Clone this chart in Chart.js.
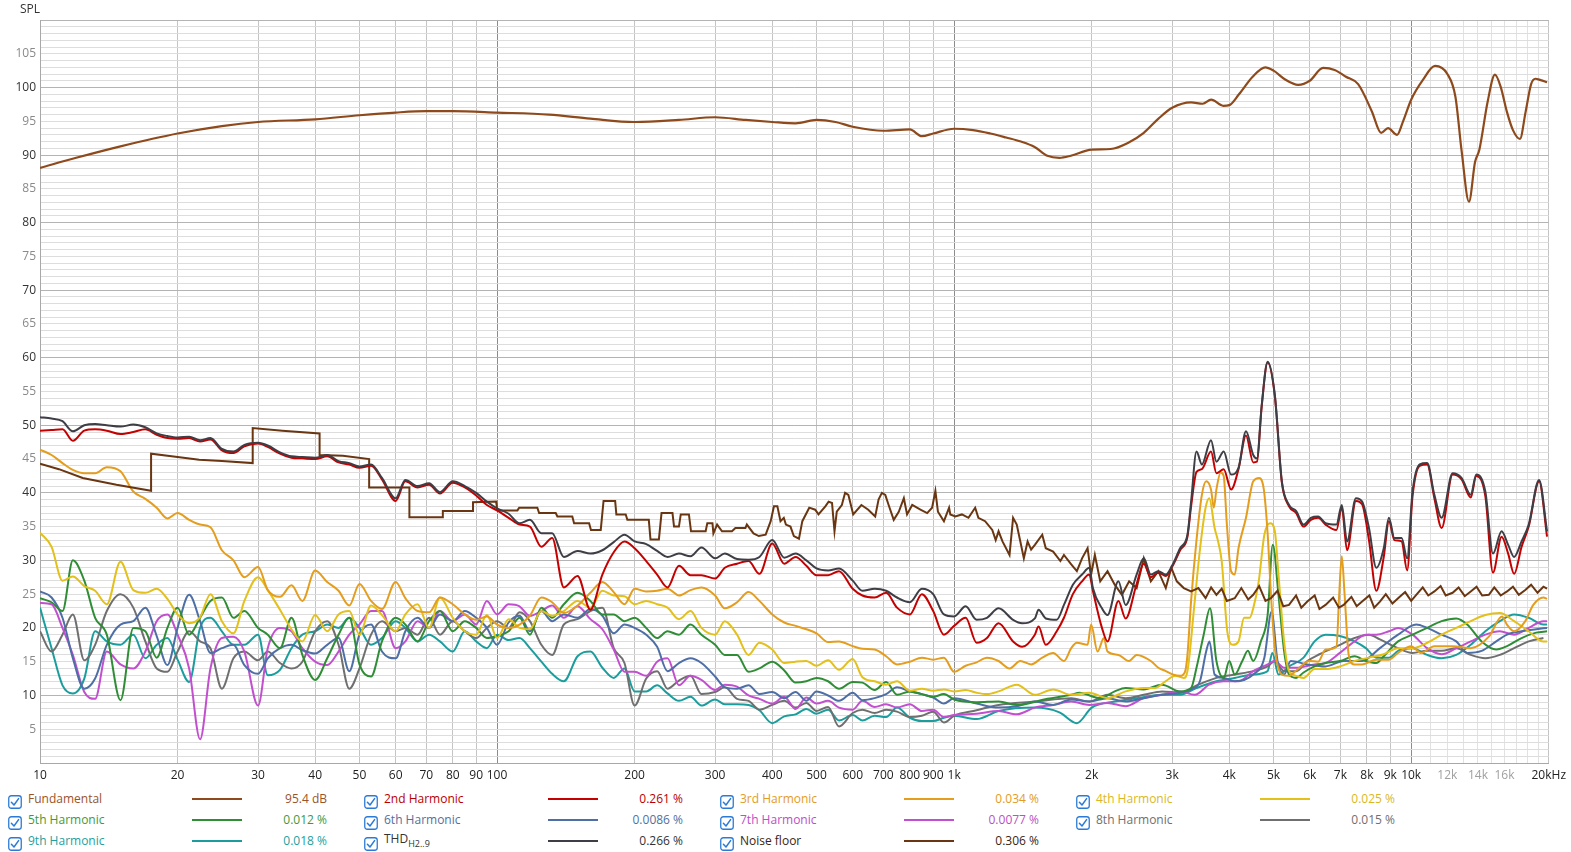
<!DOCTYPE html>
<html>
<head>
<meta charset="utf-8">
<script src="https://cdn.jsdelivr.net/npm/chart.js@4.4.1/dist/chart.umd.min.js"></script>
<style>
html,body{margin:0;padding:0;background:#fff;width:1571px;height:852px;overflow:hidden;font-family:"Open Sans","Noto Sans",sans-serif;}
#chartBox{position:absolute;left:0;top:0;width:1571px;height:788px;}
#spl{position:absolute;left:20px;top:1px;font-size:12px;line-height:16px;color:#333;}
.lg{position:absolute;font-size:12px;line-height:16px;white-space:nowrap;}
.lv{text-align:right;width:120px;}
.ln{position:absolute;height:2px;width:50px;}
.cb{position:absolute;width:14px;height:14px;}
sub{font-size:9px;vertical-align:-4px;line-height:0;}
</style>
</head>
<body>
<div id="chartBox"><canvas id="c" width="1571" height="788"></canvas></div>
<div id="spl">SPL</div>
<div id="legend"></div>
<script>
// ---------- DATA ----------
// shared 1/40-decade frequency grid, 10 Hz .. 950 Hz
const lowFreqs = [10,10.6,11.2,11.8,12.5,13.2,14,15,16,17,18,19,20,21.2,22.4,23.6,25,26.5,28,30,31.5,33.5,35.5,37.5,40,42.5,45,47.5,50,53,56,60,63,67,71,75,80,85,90,95,
 100,106,112,118,125,132,140,150,160,170,180,190,200,212,224,236,250,265,280,300,315,335,355,375,400,425,450,475,500,530,560,600,630,670,710,750,800,850,900,950];

// Fundamental
const fundF = [10,12,15,20,25,30,40,50,60,70,80,100,130,160,200,250,300,350,400,450,500,550,600,700,800,850,900,1000,1100,1200,1300,1400,1500,1600,1700,1800,2000,2200,2400,2600,2800,3000,3300,3500,3650,3880,4000,4200,4500,4795,5000,5300,5658,6000,6418,6800,7200,7655,8200,8596,8900,9316,9600,10000,10600,11280,12000,12500,12900,13380,13800,14100,14700,15250,15700,16200,16700,17300,17800,18300,18700,19200,19830];
const fundDb = [88.1,89.6,91.3,93.2,94.3,94.9,95.3,95.9,96.3,96.5,96.5,96.3,96.0,95.4,94.9,95.2,95.6,95.2,94.9,94.7,95.2,94.9,94.2,93.6,93.8,92.8,93.2,93.9,93.7,93.2,92.6,92.0,91.2,89.9,89.6,89.9,90.8,90.9,91.8,93.3,95.4,97.0,97.8,97.6,98.2,97.3,97.4,99.0,101.6,103.0,102.5,101.2,100.4,101.0,102.9,102.6,101.6,100.5,96.5,93.3,94.0,93.0,95.0,98.2,101.1,103.2,102.0,98.6,90.5,83.1,89.0,90.8,97.9,101.9,100.1,96.4,93.7,92.4,96.4,100.5,101.3,101.1,100.8];

// 2nd harmonic and THD
const h2Low = [49.2,49.3,49.4,47.7,49.2,49.4,49.2,48.7,49.0,49.4,48.6,48.1,48.0,48.1,47.6,47.9,46.3,45.9,46.9,47.3,46.8,45.8,45.2,45.1,45.0,45.4,44.5,44.2,43.7,44.0,42.0,38.8,41.7,40.8,41.2,39.9,41.5,40.8,39.6,38.2,
 37.4,36.3,35.3,35.0,32.0,33.3,26.0,27.7,22.7,27.9,31.2,32.8,31.8,29.9,27.9,26.0,29.2,27.8,27.8,27.3,28.9,29.5,29.9,28.0,32.5,29.5,30.5,29.2,27.8,27.8,28.4,25.8,24.8,24.5,25.2,23.0,22.0,25.0,22.5,19.0];
const thdLow = [51.2,51.0,50.6,49.1,50.0,50.2,50.0,49.8,50.1,49.7,48.8,48.4,48.2,48.3,47.8,48.1,46.5,46.1,47.1,47.4,47.0,46.0,45.4,45.3,45.2,45.6,44.7,44.4,43.9,44.2,42.2,39.2,41.9,41.0,41.4,40.1,41.7,41.0,40.0,38.7,
 37.7,36.9,35.5,36.0,34.0,34.0,30.5,31.4,31.0,31.5,32.7,33.8,32.8,32.4,31.4,30.5,31.0,30.6,31.9,30.3,31.0,30.2,30.1,30.5,33.0,30.4,31.0,30.0,28.8,28.5,28.8,27.0,25.5,25.8,25.5,24.5,23.8,25.8,25.0,22.0];
const distHighF = [1000,1060,1120,1180,1251,1346,1409,1502,1530,1587,1677,1739,1819,1905,1976,2012,2106,2166,2288,2373,2508,2600,2694,2798,2905,3008,3122,3240,3300,3391,3484,3648,3749,3889,4036,4190,4351,4513,4598,4710,4852,5032,5213,5404,5604,5815,6033,6260,6496,6863,7050,7240,7570,7810,8085,8390,8710,8940,9190,9530,9800,10070,10440,10840,11240,11660,12320,12890,13500,13880,14530,15100,15770,16300,16800,17440,18080,19050,19830];
const h2High = [20.3,21.5,17.8,18.5,20.7,18.0,17.2,19.0,20.2,17.5,19.5,21.5,25.0,26.9,27.9,25.5,20.0,18.0,24.0,21.4,26.5,29.5,27.5,28.2,27.7,29.2,31.5,33.5,38.0,43.1,43.5,46.1,42.9,43.5,40.5,43.5,48.5,44.5,44.6,52.8,59.3,54.3,41.5,38.0,37.0,35.0,36.0,36.3,35.3,34.5,37.8,31.5,38.8,38.3,33.0,25.5,30.5,35.8,33.0,32.8,28.5,39.5,44.0,44.2,39.2,34.8,42.7,42.0,39.3,42.5,39.5,28.2,33.5,31.0,28.0,32.0,35.0,41.7,33.5];
const thdHigh = [21.7,23.2,21.2,21.5,22.9,21.2,20.7,21.4,22.7,21.4,21.2,23.4,26.4,27.9,28.9,25.9,22.9,21.9,26.9,23.4,27.9,30.3,27.9,28.4,27.9,29.4,31.8,33.8,38.7,46.1,44.2,47.8,44.6,46.1,42.7,43.7,49.1,45.6,45.1,53.0,59.4,54.5,41.7,38.2,37.3,35.3,36.3,36.5,35.5,35.3,38.2,32.8,39.2,38.7,34.8,28.9,31.8,36.3,33.3,33.3,30.3,40.2,44.2,44.4,39.7,36.3,42.9,42.2,39.7,42.7,40.2,31.0,34.3,32.3,30.5,32.8,35.3,41.9,34.3];

// 3rd harmonic
const h3Low = [46.4,45.6,44.4,43.4,42.9,42.9,43.8,43.2,40.2,39.1,37.8,36.2,37.0,36.0,35.3,34.9,31.5,30.0,27.5,29.0,25.6,24.6,26.3,24.0,28.5,26.8,25.5,23.3,26.5,24.0,22.8,26.8,24.4,22.5,22.3,24.5,23.5,22.0,21.2,21.7,
 20.5,20.0,20.5,21.8,24.5,23.8,22.2,23.3,25.2,26.8,25.3,23.5,25.8,25.4,25.5,25.8,24.8,25.6,26.0,24.8,22.9,23.8,25.3,24.0,22.0,20.8,20.3,19.8,19.2,17.9,18.0,17.3,16.9,16.8,15.8,14.6,15.0,15.6,15.3,15.6];
const h3HighF = [1000,1060,1120,1180,1251,1322,1396,1474,1559,1647,1739,1804,1856,1959,1994,2060,2127,2166,2288,2415,2508,2694,2798,2905,3008,3122,3200,3240,3300,3391,3484,3560,3648,3700,3749,3830,3889,3950,4036,4111,4190,4351,4513,4650,4760,4852,4934,5032,5213,5404,5604,6000,6260,6496,6863,6960,7050,7150,7300,7500,7810,8390,8940,9363,10000,10500,11240,12320,13500,14790,15800,16200,16800,17770,18500,19470,19830];
const h3High = [13.5,14.4,14.9,15.6,15.1,14.0,15.1,14.6,15.6,16.3,15.1,17.0,17.8,17.5,20.5,16.5,18.5,16.5,16.0,15.1,16.0,15.1,14.1,13.6,13.1,12.9,13.5,16.0,24.0,33.0,39.7,41.7,40.5,37.8,40.5,43.0,42.5,35.5,28.4,27.9,31.8,36.3,41.7,42.2,40.5,34.0,25.0,17.0,13.1,12.9,13.7,15.1,15.0,16.8,17.2,25.0,30.6,25.0,16.0,14.6,14.6,15.3,15.3,16.3,17.3,16.3,17.3,17.3,17.0,18.7,21.7,20.5,19.5,21.0,23.4,24.5,24.3];

// 4th harmonic
const h4Low = [34.1,32.0,27.0,27.6,26.2,25.5,23.5,29.8,25.6,25.2,25.8,24.3,22.0,20.7,21.6,25.0,21.0,19.2,24.0,27.5,25.6,22.7,19.8,18.0,21.9,19.5,22.0,22.5,19.0,23.3,21.9,19.5,22.0,23.5,20.0,24.5,21.5,19.5,19.0,21.9,
 18.5,21.3,20.0,19.8,22.5,21.8,22.5,24.0,23.0,25.5,24.8,24.7,23.5,24.0,23.5,23.0,21.3,22.5,20.0,19.0,21.0,19.0,16.0,17.8,16.8,14.8,15.0,15.1,14.4,15.2,13.8,15.4,12.7,12.1,11.6,12.1,10.7,11.0,10.7,10.9];
const h4HighF = [1000,1060,1120,1180,1251,1371,1502,1647,1804,1976,2166,2373,2600,2750,2900,3050,3181,3240,3360,3453,3550,3616,3715,3781,3850,3960,4074,4190,4310,4433,4513,4640,4773,4910,5032,5125,5272,5404,5604,5815,6147,6496,6985,7520,8085,8710,9363,10070,10840,11660,12550,13500,14530,15630,16800,18080,19470,19830];
const h4High = [10.6,10.8,10.4,10.2,10.6,11.6,10.1,10.9,10.1,10.4,9.6,10.6,11.1,11.1,12.1,12.9,12.6,13.6,23.9,31.8,37.8,39.2,34.8,32.8,29.9,19.5,17.5,18.0,21.5,21.5,22.9,26.9,33.8,35.5,34.3,27.9,18.0,13.6,12.9,12.6,13.9,13.9,14.3,15.1,15.6,16.1,17.0,17.0,17.8,19.0,20.0,21.0,21.9,22.2,21.0,19.5,18.0,18.0];

// 5th harmonic
const h5Low = [24.4,23.8,22.5,30.0,27.0,21.5,19.0,9.3,20.0,19.5,15.6,20.0,23.0,19.0,21.5,24.0,24.5,21.5,22.5,20.0,19.0,17.0,21.5,16.0,12.3,15.5,19.0,21.5,14.6,12.8,18.0,21.5,20.5,18.0,21.0,22.5,19.5,21.0,20.0,18.5,
 18.8,19.5,21.5,19.0,23.0,21.5,23.5,25.2,24.0,22.0,22.0,21.0,21.5,20.0,18.5,19.5,19.0,20.5,19.0,17.5,16.0,16.0,13.5,14.0,15.0,13.7,11.9,12.1,12.6,12.1,11.0,12.0,11.9,10.8,12.0,10.1,10.6,10.2,9.8,10.2];
const h5HighF = [1000,1120,1251,1371,1600,1804,1879,2088,2246,2373,2600,2851,3122,3300,3391,3516,3630,3749,3889,4000,4111,4271,4392,4513,4690,4852,4980,5125,5272,5404,5604,5815,6147,6496,6985,7520,7960,8390,8710,9363,10070,10840,11660,12550,13260,14260,15350,16210,17440,18770,19830];
const h5High = [9.4,9.0,9.1,8.6,9.5,10.1,10.4,9.6,10.6,11.1,10.9,11.6,10.6,11.1,14.1,19.0,22.9,15.1,12.6,15.1,13.1,15.1,16.6,15.1,18.0,21.9,32.3,24.9,16.6,13.1,12.6,13.4,14.3,14.8,15.1,15.8,15.1,14.8,15.8,18.0,19.0,20.0,21.0,21.4,20.5,18.0,16.8,17.3,18.5,19.3,19.5];

// 6th harmonic
const h6Low = [25.4,24.5,21.5,15.5,11.0,12.5,17.5,20.5,21.0,23.0,18.8,14.5,20.0,24.9,21.0,16.3,17.0,17.5,14.5,13.2,15.5,17.0,17.5,16.7,16.2,17.5,18.5,13.6,19.0,20.5,16.5,15.5,19.5,21.5,20.0,22.0,21.0,22.5,21.5,20.0,
 17.5,20.8,21.8,19.5,22.5,21.0,22.0,21.5,22.8,21.8,19.2,20.5,20.0,19.0,17.2,13.6,14.8,15.5,14.8,12.8,11.2,11.0,11.5,10.2,10.5,9.6,10.5,9.2,10.6,10.0,9.2,10.4,9.3,9.6,10.2,11.2,10.6,10.2,9.7,8.8];
const h6HighF = [1000,1120,1251,1371,1502,1647,1804,1976,2166,2373,2600,2851,3122,3300,3450,3560,3620,3715,3889,4111,4513,4773,4950,5100,5272,5450,5926,6496,7117,7810,8544,9363,10260,10840,11660,12550,13260,14260,15350,16210,17440,18770,19830];
const h6High = [9.6,8.8,8.2,8.4,9.1,8.6,9.4,9.1,9.6,9.1,9.6,10.1,10.4,10.9,12.1,16.5,18.0,13.1,12.6,12.1,13.1,15.6,22.4,15.1,13.1,15.1,14.6,14.3,15.1,15.1,17.0,19.0,20.5,20.0,19.0,18.0,16.3,16.6,18.0,19.0,19.5,19.8,20.0];

// 7th harmonic
const h7Low = [23.7,23.5,20.0,16.0,10.5,9.5,16.5,14.6,14.0,16.5,21.0,22.0,19.0,14.0,3.5,14.0,18.5,18.7,16.5,8.5,17.0,20.0,19.5,17.0,15.0,14.5,16.5,19.0,20.5,22.5,22.5,17.0,18.0,21.0,20.0,22.5,21.0,22.0,20.5,24.0,
 22.0,23.5,23.2,21.8,22.5,23.3,21.5,23.2,21.3,19.8,16.8,13.5,13.5,12.9,15.0,15.5,11.5,12.9,12.3,10.8,11.6,11.3,10.0,9.5,8.8,9.8,8.0,9.7,8.8,9.2,8.2,7.9,9.2,8.3,8.7,8.2,8.7,7.7,7.9,6.8];
const h7HighF = [1000,1120,1251,1371,1502,1647,1804,1976,2166,2373,2600,2851,3122,3360,3616,3889,4190,4513,4852,5032,5272,5604,6147,6496,6985,7520,7960,8390,8940,9363,10070,10840,11660,12550,13500,14530,15630,16800,18080,19470,19830];
const h7High = [7.1,7.3,7.7,7.2,8.2,8.6,9.1,8.6,8.9,8.4,9.6,10.1,10.6,10.1,11.6,12.1,12.1,13.6,14.6,15.1,14.1,14.1,14.6,14.8,16.3,18.0,19.0,19.0,19.5,20.0,19.0,17.0,16.1,17.0,18.0,19.0,19.5,19.0,20.0,21.0,21.0];

// 8th harmonic
const h8Low = [19.5,16.5,19.0,22.0,15.2,17.5,22.5,25.0,23.0,18.0,14.0,13.5,16.5,19.5,18.0,17.0,11.0,15.5,16.5,15.2,16.5,14.8,14.0,15.0,19.5,21.0,17.5,11.0,14.0,19.0,21.0,19.5,20.0,19.0,21.5,19.0,21.0,19.5,18.5,20.0,
 21.0,20.0,22.3,21.0,17.5,16.0,20.5,21.3,22.5,23.0,17.0,14.8,8.5,12.5,13.6,11.0,12.2,12.9,10.2,10.5,11.2,9.5,9.2,7.9,8.6,9.2,8.2,8.9,7.7,8.3,5.4,7.4,7.9,7.4,7.9,7.6,6.8,7.0,7.6,6.0];
const h8HighF = [1000,1120,1251,1502,1804,1976,2166,2373,2600,2851,3122,3423,3749,4111,4513,4852,5032,5272,5604,5926,6300,6985,7520,8085,8544,9363,10070,10840,11660,12550,13500,14530,15630,16800,18080,19470];
const h8High = [7.0,7.8,8.6,9.1,9.6,9.1,10.1,9.6,10.1,10.6,10.4,11.6,12.6,13.1,13.6,14.3,15.1,13.6,13.6,15.1,16.1,17.5,18.5,19.0,18.3,17.0,16.3,16.6,16.6,17.0,16.0,15.5,16.0,17.0,18.0,18.5];

// 9th harmonic
const h9Low = [23.0,17.0,11.5,10.3,12.5,19.5,18.0,17.5,19.0,15.5,17.5,18.5,15.3,12.0,20.0,21.5,19.5,17.5,17.5,19.0,13.0,13.8,17.0,19.0,19.5,20.5,20.0,21.5,20.0,17.5,18.5,21.0,20.0,18.0,19.0,18.0,16.5,19.5,18.0,17.0,
 19.0,18.2,18.5,17.0,15.0,13.2,12.1,15.8,16.5,14.1,12.6,14.0,10.6,10.6,11.5,10.3,9.2,9.8,8.5,9.4,8.7,8.7,8.6,7.8,5.9,6.9,7.2,8.0,7.3,7.9,6.3,7.1,6.3,7.0,6.8,8.2,6.7,6.2,6.2,6.7];
const h9HighF = [1000,1120,1251,1502,1700,1856,2000,2246,2508,2851,3122,3391,3749,4111,4513,4852,4970,5125,5404,5815,6147,6496,6985,7520,7960,8390,8940,9363,10070,10840,11660,12550,13500,14530,15630,16800,18080,19470,19830];
const h9High = [7.0,6.5,7.7,8.2,7.5,5.9,8.2,9.1,9.6,10.1,10.1,11.1,12.1,12.6,13.1,13.6,16.3,13.1,14.3,15.6,18.0,19.0,18.8,18.0,17.0,15.6,15.6,16.6,17.0,16.0,15.5,16.0,17.5,19.5,21.0,22.0,21.5,20.5,20.5];

// Noise floor (stepped)
const noiseF = [10,11,12.4,14.7,17.5,17.5,20,22.3,25,29.2,29.2,33.9,40.9,40.9,46,52.5,52.5,64.3,64.3,76.1,76.1,88.6,88.6,99.5,100.2,110.8,111.8,122.5,123.6,134.4,135.5,146.1,147.4,159,160.5,168.6,171,181.3,182.4,191.2,192.8,214.8,216.6,226,229,242,243.9,250,252.3,262.9,265.7,286,288.4,296,297.4,303,310.6,326.5,332.3,349.5,352,364,373.8,387,396.9,403.5,410.5,417,424,428.5,438.5,446,457.7,465.5,482,496.6,505,522.7,531.4,540.6,547.4,553.7,568,577.4,587,594.5,601.5,626.8,648.9,672,683.4,695,707,719,737.7,756.7,776.3,789,809.7,844,873,895,910,921.7,950,975,981,1006,1040,1075,1112,1130,1169,1212,1233,1251,1276,1322,1346,1371,1396,1421,1448,1474,1502,1559,1587,1647,1708,1739,1804,1856,1905,1959,1994,2032,2088,2166,2246,2329,2415,2508,2600,2694,2798,2905,2987,3071,3181,3300,3423,3550,3650,3749,3850,3950,4111,4250,4400,4513,4650,4800,4934,5100,5250,5404,5600,5750,5926,6150,6300,6496,6750,6950,7117,7400,7600,7810,8100,8300,8544,8800,9100,9363,9700,10000,10260,10600,10900,11240,11600,11900,12320,12700,13100,13500,13900,14300,14790,15200,15700,16210,16700,17200,17770,18300,18900,19470,19830];
const noiseDb = [44.3,43.5,42.2,41.2,40.3,45.8,45.3,44.9,44.7,44.4,49.6,49.2,48.8,45.6,45.5,45.0,40.8,40.8,36.4,36.4,37.3,37.3,38.6,38.7,37.4,37.4,37.8,37.8,37.0,37.0,36.5,36.5,35.5,35.5,34.5,34.5,38.8,38.8,36.8,36.8,36.0,36.0,33.1,33.1,37.0,37.0,35.0,35.0,36.8,36.8,34.3,34.3,35.5,35.5,34.0,35.3,34.3,34.3,34.8,34.8,35.3,34.0,33.6,33.8,35.8,38.0,38.0,35.8,36.3,35.3,35.0,33.6,33.2,35.8,37.8,37.5,36.8,38.0,38.7,38.5,34.3,37.2,38.2,40.0,39.7,38.2,36.8,38.2,37.5,36.5,39.0,40.0,39.7,38.2,36.0,37.2,39.2,36.8,38.2,37.5,37.0,37.8,40.3,37.2,35.8,37.8,36.8,36.5,36.8,36.3,37.8,36.3,35.8,34.5,33.0,34.3,32.8,30.8,36.3,35.3,32.8,30.3,32.8,31.6,32.3,33.8,31.8,31.3,29.9,30.8,29.4,28.4,30.3,31.8,27.9,30.8,26.9,28.4,26.4,24.9,26.9,25.9,30.3,26.9,28.4,25.9,28.9,26.9,25.9,25.4,25.9,24.4,26.0,24.9,25.8,24.0,24.4,25.9,24.2,24.9,26.2,24.0,24.4,25.5,23.2,23.4,24.8,23.0,23.9,24.8,22.8,23.4,24.5,23.0,23.4,24.6,23.2,23.9,24.8,23.0,23.9,25.0,23.6,24.4,25.3,24.0,24.9,26.0,24.8,25.4,26.2,24.8,25.2,26.0,24.7,25.4,26.1,24.8,24.9,26.0,24.8,25.4,26.1,24.9,25.6,26.4,25.2,26.1,25.8];

// axis ticks
const xGridTicks = [10,20,30,40,50,60,70,80,90,100,200,300,400,500,600,700,800,900,1000,2000,3000,4000,5000,6000,7000,8000,9000,10000,11000,12000,13000,14000,15000,16000,17000,18000,19000,20000];
const xLabelValues = [10,20,30,40,50,60,70,80,90,100,200,300,400,500,600,700,800,900,1000,2000,3000,4000,5000,6000,7000,8000,9000,10000,12000,14000,16000,20000];
const xLabelTexts = ['10','20','30','40','50','60','70','80','90','100','200','300','400','500','600','700','800','900','1k','2k','3k','4k','5k','6k','7k','8k','9k','10k','12k','14k','16k','20kHz'];

// legend
const legendNames = ['Fundamental','2nd Harmonic','3rd Harmonic','4th Harmonic','5th Harmonic','6th Harmonic','7th Harmonic','8th Harmonic','9th Harmonic','THD','Noise floor'];
const legendValues = ['95.4 dB','0.261 %','0.034 %','0.025 %','0.012 %','0.0086 %','0.0077 %','0.015 %','0.018 %','0.266 %','0.306 %'];
const lineColors = ['#8e4a1c','#c40000','#e49d1d','#e3c01a','#2f8d35','#4e6ea6','#c24fcf','#6f6f6f','#1b9d9d','#3e3e46','#6a3612'];
const textColors = ['#9a5327','#b80000','#e39c22','#d9b81f','#3c9a3c','#52709e','#bb4fc6','#6f6f6f','#24a0a0','#333333','#3b2410'];

// ---------- BUILD ----------
function pts(f, d){ return f.map((x,i)=>({x:x, y:d[i]})); }
function joined(low, hf, hd){ return pts(lowFreqs, low).concat(pts(hf, hd)); }

const seriesData = [
  pts(fundF, fundDb),
  joined(h2Low, distHighF, h2High),
  joined(h3Low, h3HighF, h3High),
  joined(h4Low, h4HighF, h4High),
  joined(h5Low, h5HighF, h5High),
  joined(h6Low, h6HighF, h6High),
  joined(h7Low, h7HighF, h7High),
  joined(h8Low, h8HighF, h8High),
  joined(h9Low, h9HighF, h9High),
  joined(thdLow, distHighF, thdHigh),
  pts(noiseF, noiseDb)
];
const drawOrder = [0,2,4,5,6,7,8,9,10,1,3];

const datasets = seriesData.map((d,i)=>({
  label: legendNames[i],
  data: d,
  borderColor: lineColors[i],
  backgroundColor: lineColors[i],
  borderWidth: i===0 ? 2.2 : 2,
  pointRadius: 0,
  fill: false,
  tension: i===10 ? 0 : 0.35,
  cubicInterpolationMode: i===10 ? 'default' : 'monotone',
  order: drawOrder[i]
}));

Chart.defaults.font.family = "'Open Sans','Noto Sans',sans-serif";
Chart.defaults.font.size = 12;

new Chart(document.getElementById('c'), {
  type: 'line',
  data: { datasets },
  options: {
    responsive: false,
    animation: false,
    devicePixelRatio: 1,
    layout: { padding: { left: 0, right: 20, top: 20, bottom: 0 } },
    plugins: { legend: { display: false }, tooltip: { enabled: false } },
    scales: {
      x: {
        type: 'logarithmic',
        min: 10, max: 20000,
        afterBuildTicks: (s) => { s.ticks = xGridTicks.map(v => ({ value: v })); },
        afterFit: (s) => { s.height = 25; },
        border: { display: true, color: '#a8a8a8' },
        grid: {
          drawTicks: false,
          color: (c) => {
            const v = c.tick ? c.tick.value : 0;
            if (v === 100 || v === 1000 || v === 10000) return '#8c8c8c';
            if (v > 10000 && v < 20000) return '#e2e2e2';
            return '#c4c4c4';
          }
        },
        ticks: {
          autoSkip: false, maxRotation: 0, padding: 5,
          color: (c) => { const v = c.tick.value; return (v===12000||v===14000||v===16000) ? '#a0a0a0' : '#222222'; },
          callback: (v) => { const k = xLabelValues.indexOf(v); return k >= 0 ? xLabelTexts[k] : ''; }
        }
      },
      y: {
        type: 'linear',
        min: 0, max: 110,
        afterFit: (s) => { s.width = 40; },
        border: { display: true, color: '#a8a8a8' },
        grid: {
          drawTicks: false,
          color: (c) => (c.tick && c.tick.value % 10 === 0) ? '#b4b4b4' : '#dddddd'
        },
        ticks: {
          stepSize: 1, autoSkip: false, maxTicksLimit: 200, padding: 4,
          color: (c) => c.tick.value % 10 === 0 ? '#333333' : '#8a8a8a',
          callback: (v) => (v % 5 === 0 && v > 0 && v < 110) ? String(v) : ''
        }
      }
    }
  }
});

// ---------- LEGEND (HTML) ----------
const legendSlots = [[0,0],[0,1],[0,2],[0,3],[1,0],[1,1],[1,2],[1,3],[2,0],[2,1],[2,2]];
const rowY = [800, 821, 842];
const colX = [0, 356, 712, 1068];
const lg = document.getElementById('legend');
const cbSvg = '<svg width="14" height="14" viewBox="0 0 14 14"><rect x="0.75" y="0.75" width="12.5" height="12.5" rx="2.5" ry="2.5" fill="#fff" stroke="#2b7bd6" stroke-width="1.3"/><path d="M3.4 7.2 L6 10 L10.6 3.6" fill="none" stroke="#2b7bd6" stroke-width="1.5" stroke-linecap="round" stroke-linejoin="round"/></svg>';
legendNames.forEach((name, i) => {
  const r = legendSlots[i][0], c = legendSlots[i][1];
  const x0 = colX[c], yc = rowY[r];
  const cb = document.createElement('div');
  cb.className = 'cb'; cb.style.left = (x0 + 8) + 'px'; cb.style.top = (yc - 8) + 'px';
  cb.innerHTML = cbSvg; lg.appendChild(cb);
  const t = document.createElement('div');
  t.className = 'lg'; t.style.left = (x0 + 28) + 'px'; t.style.top = (yc - 9) + 'px'; t.style.color = textColors[i];
  if (name === 'THD') { t.innerHTML = 'THD<sub>H2..9</sub>'; t.style.top = (yc - 11) + 'px'; }
  else t.textContent = name;
  lg.appendChild(t);
  const ln = document.createElement('div');
  ln.className = 'ln'; ln.style.left = (x0 + 192) + 'px'; ln.style.top = (yc - 2) + 'px'; ln.style.background = lineColors[i];
  lg.appendChild(ln);
  const v = document.createElement('div');
  v.className = 'lg lv'; v.style.left = (x0 + 327 - 120) + 'px'; v.style.top = (yc - 9) + 'px'; v.style.color = textColors[i];
  v.textContent = legendValues[i];
  lg.appendChild(v);
});
</script>
</body>
</html>
